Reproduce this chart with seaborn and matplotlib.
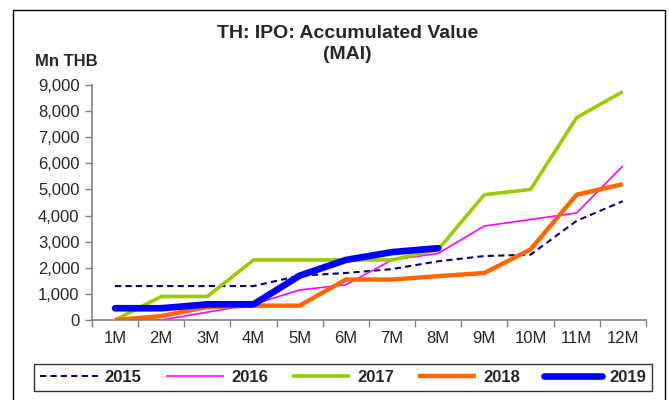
import numpy as np
import pandas as pd
import matplotlib
matplotlib.use("Agg")
import matplotlib.pyplot as plt
import seaborn as sns
from matplotlib.patches import Rectangle

# Month labels on the x axis
months = ["1M", "2M", "3M", "4M", "5M", "6M", "7M", "8M", "9M", "10M", "11M", "12M"]

# Accumulated IPO value (Mn THB)
v2015 = [1300, 1300, 1300, 1300, 1700, 1800, 1950, 2250, 2450, 2500, 3800, 4550]
v2016 = [0, 0, 300, 600, 1150, 1350, 2300, 2550, 3600, 3850, 4100, 5900]
v2017 = [0, 900, 900, 2300, 2300, 2300, 2300, 2700, 4800, 5000, 7750, 8750]
v2018 = [0, 150, 500, 550, 550, 1550, 1550, 1680, 1800, 2700, 4800, 5200]
v2019 = [450, 450, 600, 600, 1700, 2300, 2600, 2750]

years = ["2015", "2016", "2017", "2018", "2019"]
colors = ["#000080", "#FF00FF", "#99CC00", "#FF6600", "#0000FF"]
widths = [1.5, 1.2, 2.6, 3.2, 4.8]

rows = []
for year, vals in zip(years, [v2015, v2016, v2017, v2018, v2019]):
    for i, v in enumerate(vals):
        rows.append({"year": year, "month": i + 1, "value": v})
df = pd.DataFrame(rows)

sns.set_style("white")
plt.rcParams["font.family"] = ["Liberation Sans", "DejaVu Sans"]

fig = plt.figure(figsize=(6.69, 4.0), dpi=100)
ax = fig.add_axes([0.1375, 0.2, 0.828, 0.5875])

for year, col, lw in zip(years, colors, widths):
    sub = df[df["year"] == year]
    sns.lineplot(data=sub, x="month", y="value", ax=ax, color=col,
                 linewidth=lw, label=year)
    ln = ax.lines[-1]
    ln.set_solid_capstyle("round" if year == "2019" else "butt")
    if year == "2015":
        ln.set_linestyle((0, (3, 2)))

ax.set_xlim(0.5, 12.5)
ax.set_ylim(0, 9000)
ax.set_xticks(range(1, 13))
ax.set_xticklabels(months, fontsize=12)
ax.set_xticks(np.arange(0.5, 13, 1), minor=True)
ax.tick_params(axis="x", which="major", length=0, pad=8)
ax.tick_params(axis="x", which="minor", length=5, width=1, color="#808080", direction="out", bottom=True)
ax.set_yticks(range(0, 9001, 1000))
ax.set_yticklabels([f"{v:,}" for v in range(0, 9001, 1000)], fontsize=12)
ax.tick_params(axis="y", length=5, width=1, color="#808080", direction="out", left=True, pad=4)
ax.set_xlabel("")
ax.set_ylabel("")
for s in ["top", "right"]:
    ax.spines[s].set_visible(False)
for s in ["left", "bottom"]:
    ax.spines[s].set_color("#808080")
    ax.spines[s].set_linewidth(1.2)

fig.text(0.519, 0.89, "TH: IPO: Accumulated Value\n(MAI)", ha="center", va="center",
         fontsize=14, fontweight="bold", linespacing=1.3)
fig.text(0.052, 0.845, "Mn THB", ha="left", va="center", fontsize=12, fontweight="bold")

# outer chart frame
fig.patches.append(Rectangle((13 / 669, -0.05), 652 / 669, 1.05 - 10 / 400,
                             transform=fig.transFigure, fill=False, edgecolor="black",
                             linewidth=1))

ax.legend_.remove()
handles, labels = ax.get_legend_handles_labels()
leg = fig.legend(handles, labels, loc="center", bbox_to_anchor=(0.5125, 0.056), ncol=5,
                 frameon=True, fancybox=False, edgecolor="black",
                 handlelength=3.5, columnspacing=1.45, handletextpad=0.4,
                 borderpad=0.35, borderaxespad=0, prop={"weight": "bold", "size": 12})
leg.get_frame().set_linewidth(1)

fig.savefig("out.png", dpi=100)
